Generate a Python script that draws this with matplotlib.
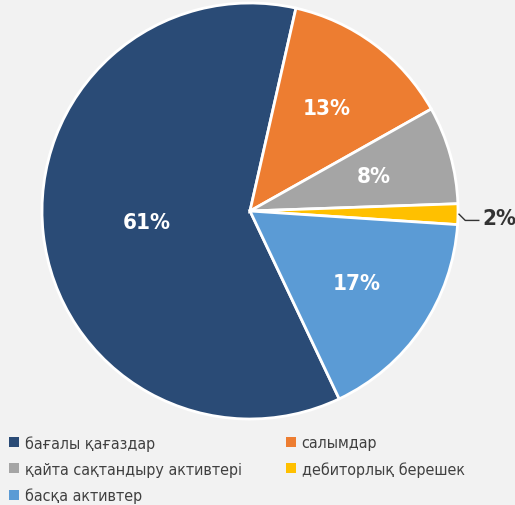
import matplotlib.pyplot as plt
import numpy as np

# asset structure, percent
labels = ['бағалы қағаздар', 'салымдар', 'қайта сақтандыру активтері',
          'дебиторлық берешек', 'басқа активтер']
values = [60.6, 13.3, 7.6, 1.6, 16.9]
colors = ['#2a4b76', '#ed7d31', '#a5a5a5', '#ffc000', '#5b9bd5']

plt.rcParams['font.family'] = ['DejaVu Sans']
plt.rcParams['font.stretch'] = 'condensed'

bg = '#f2f2f2'
fig = plt.figure(figsize=(5.15, 5.06), dpi=100, facecolor=bg)
ax = fig.add_axes([42 / 515, 86 / 506, 416 / 515, 416 / 506])
ax.set_facecolor(bg)

wedges, _ = ax.pie(values, colors=colors, startangle=-64.6, counterclock=False,
                   wedgeprops=dict(edgecolor='white', linewidth=2))
ax.set_xlim(-1, 1)
ax.set_ylim(-1, 1)
ax.set_aspect('equal')
ax.axis('off')

# percent labels
for i, w in enumerate(wedges):
    mid = np.deg2rad((w.theta1 + w.theta2) / 2)
    txt = f'{values[i]:.0f}%'
    if values[i] < 3:
        x0, y0 = np.cos(mid), np.sin(mid)
        ax.plot([x0 + 0.005, x0 + 0.035, x0 + 0.1], [y0, y0 - 0.03, y0 - 0.03],
                color='#333333', lw=1, clip_on=False)
        ax.text(x0 + 0.115, y0 - 0.02, txt, ha='left', va='center',
                fontsize=16, fontweight='bold', color='#333333')
        continue
    r = 0.5 if values[i] > 50 else 0.62
    ax.text(r * np.cos(mid), r * np.sin(mid), txt, ha='center', va='center',
            fontsize=16, fontweight='bold', color='white')

# legend in two columns, row by row
kw = dict(frameon=False, fontsize=11.5, handlelength=0.6, handleheight=0.6,
          handletextpad=0.35, labelspacing=0.68, borderaxespad=0, labelcolor='#404040')
leg1 = fig.legend([wedges[i] for i in (0, 2, 4)], [labels[i] for i in (0, 2, 4)],
                  loc='upper left', bbox_to_anchor=(3 / 515, 1 - 430 / 506), **kw)
leg2 = fig.legend([wedges[i] for i in (1, 3)], [labels[i] for i in (1, 3)],
                  loc='upper left', bbox_to_anchor=(280 / 515, 1 - 430 / 506), **kw)
for leg in (leg1, leg2):
    for h in leg.legend_handles:
        h.set_edgecolor('none')

fig.savefig('out.png', dpi=100, facecolor=bg)
